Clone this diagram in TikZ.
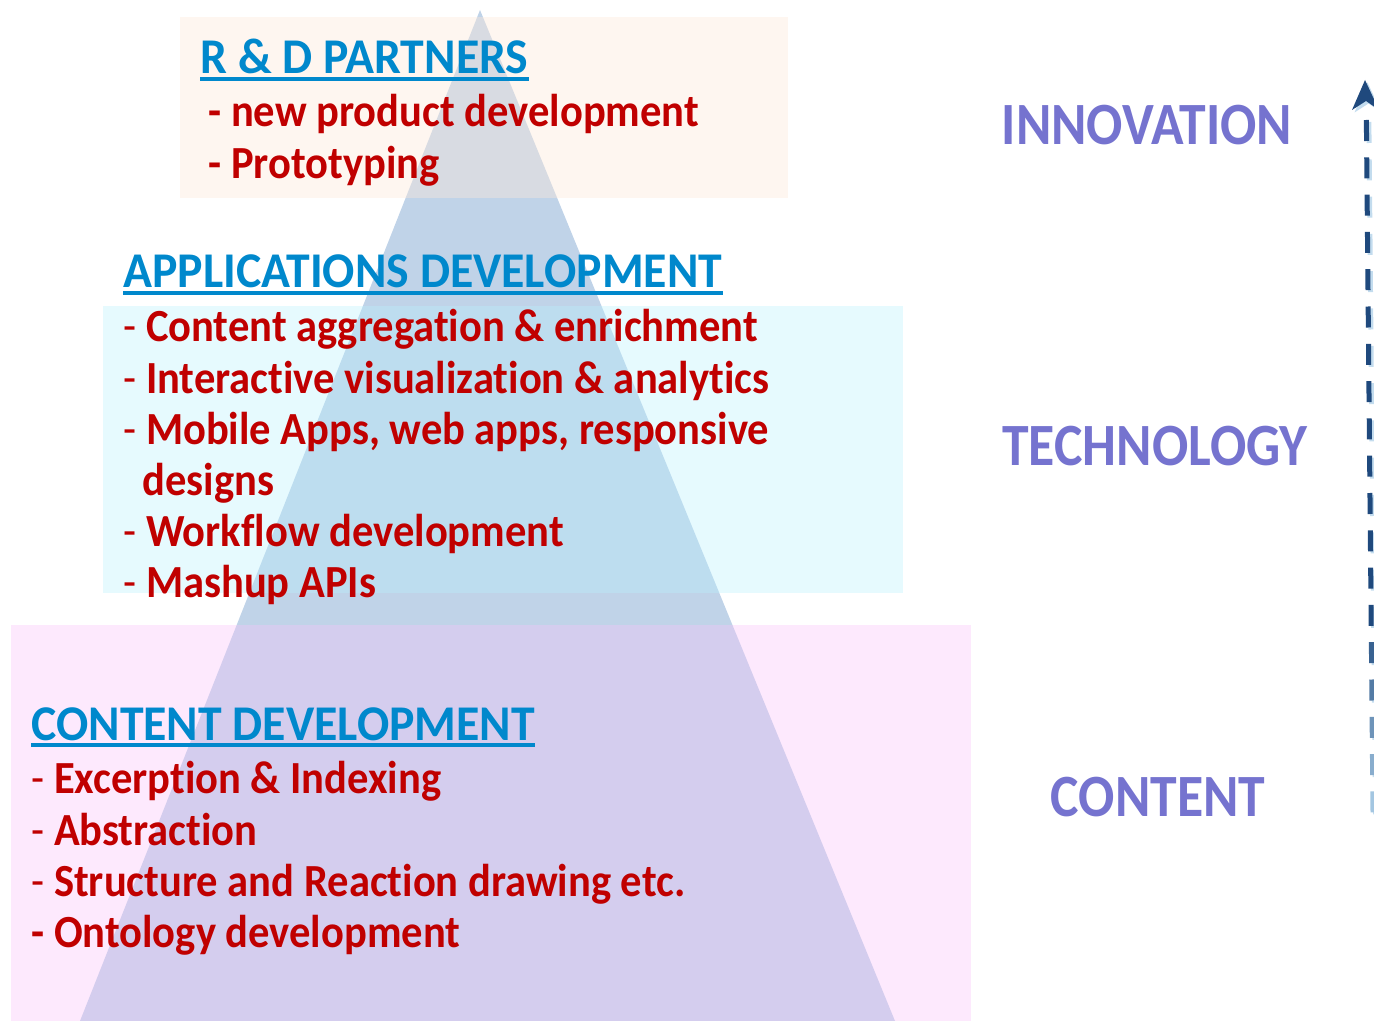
\documentclass[tikz,border=0pt]{standalone}
\usepackage{fontspec}
\setmainfont{Carlito}[RawFeature={-liga}]
\definecolor{pyr}{RGB}{192,211,232}
\definecolor{peachc}{RGB}{252,232,217}
\definecolor{cyanc}{RGB}{186,241,253}
\definecolor{pinkc}{RGB}{249,195,249}
\definecolor{headc}{RGB}{0,136,204}
\definecolor{redc}{RGB}{192,0,0}
\definecolor{labc}{RGB}{117,115,207}
\definecolor{arrdark}{RGB}{31,73,125}
\definecolor{arrlight}{RGB}{170,205,230}
\definecolor{arrshadow}{RGB}{195,220,238}
\tikzset{
  head/.style={anchor=base west, inner sep=0pt, text=headc, transform shape, xscale=0.955, font=\fontsize{25}{30}\selectfont\bfseries},
  item/.style={anchor=base west, inner sep=0pt, text=redc, transform shape, xscale=0.925, font=\fontsize{23}{28}\selectfont\bfseries},
  side/.style={anchor=base, inner sep=0pt, text=labc, transform shape, xscale=0.895, font=\fontsize{30}{36}\selectfont\bfseries},
  uline/.style={draw=headc, line width=2pt},
}
\newcommand{\thin}{{\fontseries{m}\selectfont -}}
\begin{document}
\begin{tikzpicture}[x=0.5pt,y=-0.5pt]
\useasboundingbox (0,0) rectangle (1374,1021);
% pyramid
\fill[pyr] (480,10) -- (895,1021) -- (80,1021) -- cycle;
% boxes
\fill[peachc, opacity=0.4] (180,17) rectangle (788,198);
\fill[cyanc, opacity=0.36] (103,306) rectangle (903,593);
\fill[pinkc, opacity=0.365] (11,625) rectangle (971,1021);
% R&D
\node[head] (rdh) at (200,74) {R \& D PARTNERS};
\draw[uline] ([yshift=-2.5pt]rdh.base west) -- ([yshift=-2.5pt]rdh.base east);
\node[item] (rd1) at (208,127) {- new product development};
\node[item] (rd2) at (208,179) {- Prototyping};
% Applications
\node[head] (aph) at (123,288) {APPLICATIONS DEVELOPMENT};
\draw[uline] ([yshift=-2.5pt]aph.base west) -- ([yshift=-2.5pt]aph.base east);
\node[item] (ap1) at (123,342) {\thin{} Content aggregation \& enrichment};
\node[item] (ap2) at (123,393) {\thin{} Interactive visualization \& analytics};
\node[item] (ap3) at (123,444) {\thin{} Mobile Apps, web apps, responsive};
\node[item] (ap4) at (142,495) {designs};
\node[item] (ap5) at (123,546) {\thin{} Workflow development};
\node[item] (ap6) at (123,597) {\thin{} Mashup APIs};
% Content
\node[head] (cdh) at (31,740) {CONTENT DEVELOPMENT};
\draw[uline] ([yshift=-2.5pt]cdh.base west) -- ([yshift=-2.5pt]cdh.base east);
\node[item] (cd1) at (31,793) {\thin{} Excerption \& Indexing};
\node[item] (cd2) at (31,845) {\thin{} Abstraction};
\node[item] (cd3) at (31,896) {\thin{} Structure and Reaction drawing etc.};
\node[item] (cd4) at (31,947) {- Ontology development};
% side labels
\node[side] (inn) at (1147,145) {INNOVATION};
\node[side] (tec) at (1155,465) {TECHNOLOGY};
\node[side] (con) at (1158,816) {CONTENT};
% dashed arrow with fading colour
\coordinate (atip) at (1365,80);
\coordinate (abot) at (1373,813);
\foreach \i in {0,...,18}{
  \pgfmathsetmacro{\ya}{120+37.3*\i}
  \pgfmathsetmacro{\yb}{\ya+21}
  \pgfmathsetmacro{\xa}{1366+7*(\ya-83)/730}
  \pgfmathsetmacro{\xb}{1366+7*(\yb-83)/730}
  \pgfmathsetmacro{\p}{min(100,max(0,(\i-13)*19))}
  \draw[arrshadow, line width=2.5pt] (\xa+2.5,\ya+2) -- (\xb+2.5,\yb+2);
  \draw[arrlight!\p!arrdark, line width=2.5pt] (\xa,\ya) -- (\xb,\yb);
}
\fill[arrshadow] ([shift={(2.5,2.5)}]atip) -- (1354.5,112.5) -- (1368.5,103.5) -- (1381.5,112.5) -- cycle;
\fill[arrdark] (atip) -- (1352,110) -- (1366,101) -- (1379,110) -- cycle;
\end{tikzpicture}
\end{document}
